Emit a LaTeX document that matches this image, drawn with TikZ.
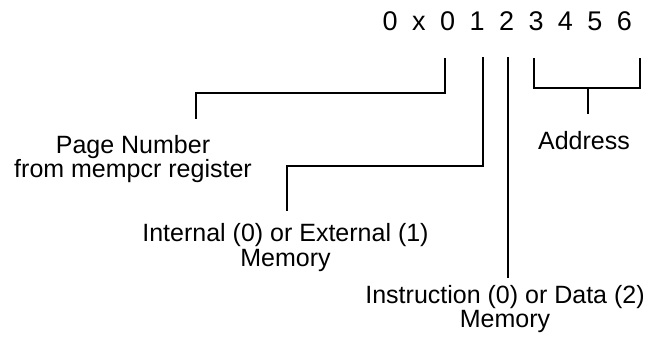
\documentclass[tikz,border=0pt]{standalone}
\usepackage{fontspec}
\setmainfont{Liberation Sans}
\newfontfamily\digitsfont[WordSpace=1.93]{Liberation Sans}
\begin{document}
\begin{tikzpicture}[x=1pt,y=-1pt,
  conn/.style={line width=1.9pt, line join=miter, line cap=rect},
  lbl/.style={anchor=north, inner sep=0pt, align=center, font=\fontsize{25}{22.5}\selectfont}
]
\useasboundingbox (0,0) rectangle (650,337);
% hex number
\node[anchor=base, inner sep=0pt, font=\digitsfont\fontsize{27}{30}\selectfont] (num) at (507.3,31) {0 x 0 1 2 3 4 5 6};
% labels
\node[lbl] (pg) at (133,134.7) {Page Number\\from mempcr register};
\node[lbl] (ie) at (285.5,222.7) {Internal (0) or External (1)\\[2.5pt]Memory};
\node[lbl] (id) at (505,285.3) {Instruction (0) or Data (2)\\[1pt]Memory};
\node[lbl] (addr) at (584,131) {Address};
% connector points
\coordinate (pgA) at (445,59);
\coordinate (pgB) at (445,93.3);
\coordinate (pgC) at (196,93.3);
\coordinate (pgD) at (196,118);
\coordinate (ieA) at (482.7,58.3);
\coordinate (ieB) at (482.7,166);
\coordinate (ieC) at (287,166);
\coordinate (ieD) at (287,210);
\coordinate (idA) at (508.3,58.3);
\coordinate (idB) at (508.3,276.7);
\coordinate (adL) at (534,59);
\coordinate (adLB) at (534,88);
\coordinate (adRB) at (640,88);
\coordinate (adR) at (640,59);
\coordinate (adS) at (588,88);
\coordinate (adT) at (588,113);
% connectors
\draw[conn] (pgA) -- (pgB) -- (pgC) -- (pgD);
\draw[conn] (ieA) -- (ieB) -- (ieC) -- (ieD);
\draw[conn] (idA) -- (idB);
\draw[conn] (adL) -- (adLB) -- (adRB) -- (adR);
\draw[conn] (adS) -- (adT);
\end{tikzpicture}
\end{document}
